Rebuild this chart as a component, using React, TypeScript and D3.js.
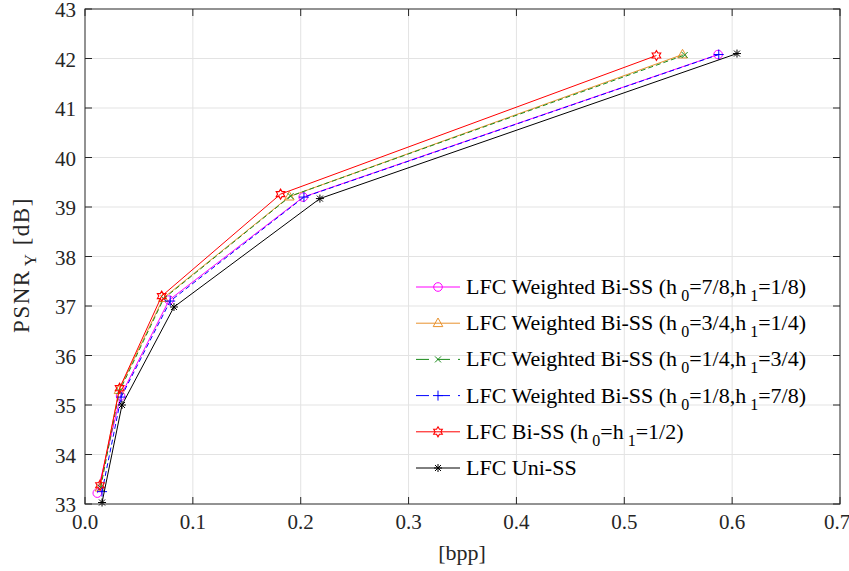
import * as d3 from 'd3';

// [bpp] and PSNR_Y [dB]
const bppW78 = [0.0114, 0.033, 0.078, 0.2023, 0.587];
const psnrW78 = [33.22, 35.18, 37.12, 39.2, 42.08];
const bppW34 = [0.0139, 0.0315, 0.0726, 0.1894, 0.554];
const psnrW34 = [33.33, 35.3, 37.16, 39.21, 42.08];
const bppW14 = [0.0145, 0.032, 0.073, 0.1906, 0.556];
const psnrW14 = [33.33, 35.28, 37.15, 39.22, 42.07];
const bppW18 = [0.0158, 0.0335, 0.079, 0.203, 0.5876];
const psnrW18 = [33.25, 35.16, 37.1, 39.2, 42.08];
const bppBi = [0.0139, 0.0321, 0.0711, 0.1813, 0.5298];
const psnrBi = [33.38, 35.34, 37.2, 39.26, 42.06];
const bppUni = [0.0158, 0.0343, 0.0825, 0.2178, 0.6045];
const psnrUni = [33.03, 35.0, 36.98, 39.17, 42.1];

const xTicks = [0, 0.1, 0.2, 0.3, 0.4, 0.5, 0.6, 0.7];
const yTicks = [33, 34, 35, 36, 37, 38, 39, 40, 41, 42, 43];

const series = [
  { name: 'LFC Weighted Bi-SS (h', sub: ['0', '=7/8,h', '1', '=1/8)'], x: bppW78, y: psnrW78, color: '#ff00ff', dash: null, marker: 'circle' },
  { name: 'LFC Weighted Bi-SS (h', sub: ['0', '=3/4,h', '1', '=1/4)'], x: bppW34, y: psnrW34, color: '#e8922e', dash: null, marker: 'triangle' },
  { name: 'LFC Weighted Bi-SS (h', sub: ['0', '=1/4,h', '1', '=3/4)'], x: bppW14, y: psnrW14, color: '#1a8a1a', dash: '5,3', marker: 'x' },
  { name: 'LFC Weighted Bi-SS (h', sub: ['0', '=1/8,h', '1', '=7/8)'], x: bppW18, y: psnrW18, color: '#0000ff', dash: '5,3', marker: 'plus' },
  { name: 'LFC Bi-SS (h', sub: ['0', '=h', '1', '=1/2)'], x: bppBi, y: psnrBi, color: '#ff0000', dash: null, marker: 'hexagram' },
  { name: 'LFC Uni-SS', sub: null, x: bppUni, y: psnrUni, color: '#000000', dash: null, marker: 'asterisk' },
];

const W = 849;
const H = 571;
const left = 85;
const right = 840;
const top = 9;
const bottom = 504;
const ff = { fontFamily: '"Liberation Serif"' };

function hexagram(r: number) {
  const pts: string[] = [];
  for (let i = 0; i < 12; i++) {
    const a = (Math.PI / 6) * i - Math.PI / 2;
    const rr = i % 2 === 0 ? r : r * 0.58;
    pts.push(`${(rr * Math.cos(a)).toFixed(2)},${(rr * Math.sin(a)).toFixed(2)}`);
  }
  return 'M' + pts.join('L') + 'Z';
}

function Marker({ type, cx, cy, color }) {
  const t = `translate(${cx},${cy})`;
  if (type === 'circle') return <circle cx={cx} cy={cy} r={4.3} fill="none" stroke={color} strokeWidth={1} />;
  if (type === 'triangle') return <path transform={t} d="M0,-5.2L4.8,3.4L-4.8,3.4Z" fill="none" stroke={color} strokeWidth={1} />;
  if (type === 'x') return <path transform={t} d="M-3,-3L3,3M-3,3L3,-3" stroke={color} strokeWidth={1} />;
  if (type === 'plus') return <path transform={t} d="M-5,0L5,0M0,-5L0,5" stroke={color} strokeWidth={1} />;
  if (type === 'hexagram') return <path transform={t} d={hexagram(5)} fill="none" stroke={color} strokeWidth={1.1} />;
  return <path transform={t} d="M-4,0L4,0M0,-4L0,4M-3,-3L3,3M-3,3L3,-3" stroke={color} strokeWidth={1} />;
}

export default function App() {
  const x = d3.scaleLinear().domain([0, 0.7]).range([left, right]);
  const y = d3.scaleLinear().domain([33, 43]).range([bottom, top]);
  const fmt = d3.format('.1f');
  const tickLen = 7;

  const legX = 416;
  const legY0 = 287;
  const legDy = 36.2;

  return (
    <svg width={W} height={H} style={{ position: 'absolute', left: 0, top: 0, background: '#fff' }}>
      <rect x={0} y={0} width={W} height={H} fill="#fff" />
      {xTicks.slice(1, -1).map((t) => (
        <line key={'gx' + t} x1={x(t)} x2={x(t)} y1={top} y2={bottom} stroke="#e3e3e3" strokeWidth={1} />
      ))}
      {yTicks.slice(1, -1).map((t) => (
        <line key={'gy' + t} x1={left} x2={right} y1={y(t)} y2={y(t)} stroke="#e3e3e3" strokeWidth={1} />
      ))}

      {series.map((s, i) => {
        const line = d3.line<number>().x((d) => x(d)).y((_, j) => y(s.y[j]));
        return (
          <g key={'s' + i}>
            <path d={line(s.x) || ''} fill="none" stroke={s.color} strokeWidth={1} strokeDasharray={s.dash || undefined} />
            {s.x.map((v, j) => (
              <Marker key={j} type={s.marker} cx={x(v)} cy={y(s.y[j])} color={s.color} />
            ))}
          </g>
        );
      })}

      <rect x={left} y={top} width={right - left} height={bottom - top} fill="none" stroke="#262626" strokeWidth={1} />
      {xTicks.map((t, i) => (
        <g key={'tx' + t}>
          <line x1={x(t)} x2={x(t)} y1={bottom} y2={bottom - tickLen} stroke="#262626" />
          <line x1={x(t)} x2={x(t)} y1={top} y2={top + tickLen} stroke="#262626" />
          <text x={x(t)} dx={i === xTicks.length - 1 ? -3 : 0} y={529} textAnchor="middle" fontSize={21} fill="#262626" style={ff}>{fmt(t)}</text>
        </g>
      ))}
      {yTicks.map((t) => (
        <g key={'ty' + t}>
          <line x1={left} x2={left + tickLen} y1={y(t)} y2={y(t)} stroke="#262626" />
          <line x1={right} x2={right - tickLen} y1={y(t)} y2={y(t)} stroke="#262626" />
          <text x={76} y={y(t) + 8} textAnchor="end" fontSize={21} fill="#262626" style={ff}>{t}</text>
        </g>
      ))}

      <text x={462} y={560} textAnchor="middle" fontSize={22} fill="#262626" style={ff}>[bpp]</text>
      <text transform="translate(29,265) rotate(-90)" textAnchor="middle" fontSize={23} letterSpacing={1.5} fill="#262626" style={ff}>
        PSNR<tspan fontSize={17} dx={3} dy={7}>Y</tspan><tspan dy={-7}> [dB]</tspan>
      </text>

      {series.map((s, i) => {
        const ly = legY0 + i * legDy;
        return (
          <g key={'l' + i}>
            <line x1={legX} x2={legX + 44} y1={ly} y2={ly} stroke={s.color} strokeWidth={1} strokeDasharray={s.dash ? '13,8' : undefined} />
            <Marker type={s.marker} cx={legX + 22} cy={ly} color={s.color} />
            <text x={legX + 50} y={ly + 7} fontSize={22} fill="#000" style={ff}>
              {s.name}
              {s.sub && (
                <>
                  <tspan fontSize={16} dx={4} dy={7}>{s.sub[0]}</tspan>
                  <tspan dy={-7}>{s.sub[1]}</tspan>
                  <tspan fontSize={16} dx={4} dy={7}>{s.sub[2]}</tspan>
                  <tspan dy={-7}>{s.sub[3]}</tspan>
                </>
              )}
            </text>
          </g>
        );
      })}
    </svg>
  );
}
